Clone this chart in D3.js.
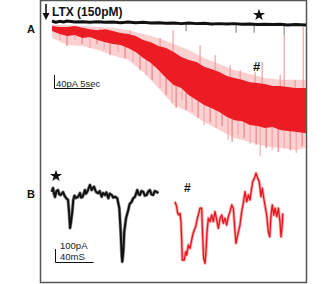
<!DOCTYPE html>
<html>
<head>
<meta charset="utf-8">
<script src="https://cdn.jsdelivr.net/npm/d3@7"></script>
<style>
  html, body { margin: 0; padding: 0; background: #fff; }
  svg { display: block; }
</style>
</head>
<body>
<div id="chart"></div>
<script>
// ---- panel A : whole recording (time in s, current in pA) ----
const bandT      = [0, 1, 2, 3, 4, 5, 6, 7, 8, 9, 10, 11, 12, 13, 14, 15, 16, 17, 18, 19, 20, 21, 22, 23, 24, 25, 26, 27, 28, 29, 30, 31, 32, 33.4];
const bandTop    = [-12, -15, -15, -12, -18, -22, -25, -22, -28, -34, -37, -43, -55, -62, -74, -80, -92, -108, -117, -123,
  -138, -145, -154, -166, -172, -178, -185, -188, -191, -197, -197, -200, -203, -203];
const bandBottom = [-28, -37, -43, -40, -49, -46, -55, -62, -68, -71, -80, -92, -111, -126, -148, -172, -194, -203, -225, -240,
  -255, -265, -277, -292, -302, -305, -317, -320, -326, -323, -332, -335, -338, -342];

// lighter, sparser envelope of the noise
const haloT      = [0, 2, 4, 6, 8, 10, 12, 14, 16, 18, 20, 22, 24, 26, 28, 30, 32, 33.4];
const haloTop    = [-9, -9, -12, -15, -18, -25, -37, -49, -68, -86, -111, -129, -148, -160, -172, -178, -178, -178];
const haloBottom = [-49, -71, -74, -86, -102, -117, -154, -203, -255, -277, -308, -332, -357, -369, -382, -388, -394, -388];

// downward / upward excursions of the red trace [t, pA]
const redDown = [[1.05, -55], [1.97, -74], [3.03, -55], [3.95, -68], [5.0, -80], [5.92, -68], [6.84, -86],
  [7.63, -102], [8.68, -92], [9.61, -111], [10.66, -123], [11.58, -148], [12.37, -163], [13.16, -178],
  [14.21, -203], [15.0, -225], [15.79, -249], [16.32, -265], [17.11, -240], [17.63, -271], [18.42, -277],
  [19.21, -295], [20.0, -317], [20.79, -308], [21.58, -326], [22.37, -320], [23.16, -363], [23.68, -369],
  [24.47, -348], [25.26, -357], [26.05, -375], [26.84, -378], [27.37, -412], [28.16, -388], [28.95, -394],
  [29.74, -400], [30.53, -388], [31.32, -394], [32.11, -403], [32.89, -382]];
const redUp = [[6.32, -18], [10.26, -25], [14.21, -49], [15.92, -25], [19.47, -71], [21.45, -102],
  [23.42, -132], [24.74, -148], [26.71, -154], [27.63, -123], [30.0, -163], [30.53, -40], [31.97, -178], [33.03, -15]];

const blackA = [[0, 3], [0.5, -1], [1, 2], [1.5, 0], [2, 3], [3, 0], [4, 1], [5, -1], [6, 1], [7, -1], [8, 0],
  [9, -2], [10, 0], [11, -2], [12, -1], [13, -3], [14, -2], [15, -4], [16, -3], [17, -5], [18, -3], [19, -5],
  [20, -4], [21, -6], [22, -5], [23, -6], [24, -5], [25, -7], [26, -6], [27, -8], [28, -7], [29, -8], [30, -7],
  [31, -9], [32, -8], [33.4, -9]];
const blackSpikes = [[17.63, -28], [24.21, -33], [26.58, -33], [30.53, -40]];

// ---- panel B : single events (time in ms, current in pA) ----
const controlB = [[0, 25], [1.4, 54], [2.4, 10], [3.5, -15], [5, 30], [6.6, 38], [8, 5], [9.5, 0], [11.9, 23], [13.5, -5],
  [15.1, -23], [17.2, -38], [18.5, -154], [19.3, -254], [20.3, -208], [21.7, -128], [22.7, -38], [24, -5], [25.6, -23],
  [28, -13], [29.8, 15], [31, -20], [32.6, -13], [35, 38], [36, 10], [37.5, 25], [40.3, 77], [42.1, 38], [44.5, 64],
  [46.6, 25], [49, 13], [50.5, 30], [52.6, -13], [54, 15], [56.1, 0], [57.5, 20], [59.6, -25], [61, 10], [63.2, 0],
  [64.8, -20], [66.6, -13], [69, -25], [71.2, -102], [72.6, -282], [73.7, -462], [74.3, -513], [75.4, -436],
  [76.4, -282], [78.2, -179], [80.6, -115], [82, -70], [84.2, -52], [85.8, -25], [87.7, -13], [90.1, 38], [91.5, 5],
  [92.9, 0], [94.5, 30], [96.4, 25], [98, -5], [100, 0], [101.5, 25], [103.4, 38], [105, 5], [106.9, 0], [108.5, 30],
  [110.5, 25], [112.2, 13]];
const ltxB = [[0, -52], [1.8, -90], [2.8, -141], [4.2, -154], [5.3, -141], [6.3, -205], [7.1, -359], [7.7, -500],
  [9.8, -500], [11.3, -436], [12.3, -462], [14, -385], [15.8, -410], [16.8, -372], [18.6, -308], [20.3, -269],
  [21.8, -244], [23.2, -192], [24.5, -154], [26.3, -102], [28.1, -102], [29.2, -333], [30.2, -487], [31.6, -525],
  [32.6, -436], [33.7, -282], [35.1, -179], [36.8, -205], [38.6, -154], [40.3, -205], [42.1, -128], [43.9, -192],
  [45.6, -256], [47.4, -179], [49.2, -154], [50.8, -218], [52.6, -179], [54.4, -231], [56.1, -167], [57.9, -128],
  [59.7, -77], [61.4, -102], [63.2, -282], [64.2, -372], [66, -308], [68.4, -231], [70.2, -128], [71.9, -64],
  [73.7, 25], [75.5, -52], [77.2, 0], [78.9, -38], [80.7, 52], [81.8, 102], [83.5, 128], [85.3, 167], [87.1, 128],
  [88.7, 102], [90.5, -13], [91.9, 52], [93.4, -25], [94.7, -77], [96.5, -154], [98.2, -282], [99.7, -321],
  [101.1, -154], [102.4, -77], [103.9, -154], [105.3, -102], [107.1, -167], [108.8, -102], [110.5, -205],
  [111.6, -321], [112.9, -231], [113.4, -141]];

const scaleA = { pA: 40, sec: 5 };
const scaleB = { pA: 100, ms: 40 };

const W = 332, H = 284;
const svg = d3.select('#chart').append('svg').attr('width', W).attr('height', H);

// frame
svg.append('rect')
  .attr('x', 40.5).attr('y', 0.5).attr('width', 266).attr('height', 282)
  .attr('fill', 'none').attr('stroke', '#555').attr('stroke-width', 1.5);

// scales
const xA = d3.scaleLinear().domain([0, 33.4]).range([52, 306]);
const yA = d3.scaleLinear().domain([0, -400]).range([22, 152]);
const xB = d3.scaleLinear().domain([0, 40]).range([0, 38]);
const yB = d3.scaleLinear().domain([0, -100]).range([195, 208]);

const topAt = d3.scaleLinear().domain(bandT).range(bandTop);
const botAt = d3.scaleLinear().domain(bandT).range(bandBottom);

// red trace A
const gA = svg.append('g');

gA.append('path')
  .datum(haloT)
  .attr('d', d3.area()
    .x((d, i) => xA(haloT[i]))
    .y0((d, i) => yA(haloTop[i]))
    .y1((d, i) => yA(haloBottom[i])))
  .attr('fill', '#f7a9ac').attr('opacity', 0.55);

gA.selectAll('line.up')
  .data(redUp)
  .join('line')
  .attr('x1', d => xA(d[0])).attr('x2', d => xA(d[0]))
  .attr('y1', d => yA(topAt(d[0]))).attr('y2', d => yA(d[1]))
  .attr('stroke', '#f48d92').attr('stroke-width', 1);

gA.selectAll('line.down')
  .data(redDown)
  .join('line')
  .attr('x1', d => xA(d[0])).attr('x2', d => xA(d[0]))
  .attr('y1', d => yA(botAt(d[0]))).attr('y2', d => yA(d[1]))
  .attr('stroke', (d, i) => i % 2 ? '#ef6f75' : '#f49da1').attr('stroke-width', 1);

gA.append('path')
  .datum(bandT)
  .attr('d', d3.area()
    .x((d, i) => xA(bandT[i]))
    .y0((d, i) => yA(bandTop[i]))
    .y1((d, i) => yA(bandBottom[i])))
  .attr('fill', '#ec1c24');

// black trace A
gA.selectAll('line.bs')
  .data(blackSpikes)
  .join('line')
  .attr('x1', d => xA(d[0])).attr('x2', d => xA(d[0]))
  .attr('y1', yA(-4)).attr('y2', d => yA(d[1]))
  .attr('stroke', '#777').attr('stroke-width', 1);
gA.append('path')
  .datum(blackA)
  .attr('d', d3.line().x(d => xA(d[0])).y(d => yA(d[1])))
  .attr('fill', 'none').attr('stroke', '#111').attr('stroke-width', 3).attr('stroke-linejoin', 'round');

// panel B traces
const lineB = d3.line().x(d => xB(d[0])).y(d => yB(d[1]));
const gB1 = svg.append('g').attr('transform', 'translate(51.7,0)');
gB1.append('path').datum(controlB).attr('d', lineB)
  .attr('fill', 'none').attr('stroke', '#999').attr('stroke-width', 3.4).attr('stroke-linejoin', 'round');
gB1.append('path').datum(controlB).attr('d', lineB)
  .attr('fill', 'none').attr('stroke', '#111').attr('stroke-width', 2).attr('stroke-linejoin', 'round');

const gB2 = svg.append('g').attr('transform', 'translate(175,0)');
gB2.append('path').datum(ltxB).attr('d', lineB)
  .attr('fill', 'none').attr('stroke', '#f7a3a6').attr('stroke-width', 3).attr('stroke-linejoin', 'round');
gB2.append('path').datum(ltxB).attr('d', lineB)
  .attr('fill', 'none').attr('stroke', '#e8151d').attr('stroke-width', 1.3).attr('stroke-linejoin', 'round');

// scale bars
const narrow = 'Liberation Sans Narrow, Arial Narrow, Liberation Sans, sans-serif';
svg.append('path')
  .attr('d', `M54.5,${88 - (yA(-scaleA.pA) - yA(0))}V88.5H${54.5 + xA(scaleA.sec) - xA(0)}`)
  .attr('fill', 'none').attr('stroke', '#111').attr('stroke-width', 1);
svg.append('text').attr('x', 56).attr('y', 86.5)
  .attr('font-family', narrow).attr('font-size', 9.5).attr('fill', '#222').text(`${scaleA.pA}pA ${scaleA.sec}sec`);

svg.append('path')
  .attr('d', `M55.5,${262 - (yB(-scaleB.pA) - yB(0))}V262.5H${55.5 + xB(scaleB.ms)}`)
  .attr('fill', 'none').attr('stroke', '#111').attr('stroke-width', 1);
svg.append('text').attr('x', 60).attr('y', 249)
  .attr('font-family', narrow).attr('font-size', 9.5).attr('fill', '#222').text(`${scaleB.pA}pA`);
svg.append('text').attr('x', 60).attr('y', 259.5)
  .attr('font-family', narrow).attr('font-size', 9.5).attr('fill', '#222').text(`${scaleB.ms}mS`);

// labels
const bold = s => s.attr('font-family', 'Liberation Sans, Arial, sans-serif').attr('font-weight', 'bold').attr('fill', '#111');
svg.append('text').attr('x', 27).attr('y', 33).attr('font-size', 11).call(bold).text('A');
svg.append('text').attr('x', 27).attr('y', 198).attr('font-size', 11).call(bold).text('B');
svg.append('text').attr('x', 52).attr('y', 16).attr('font-size', 12).call(bold).text('LTX (150pM)');
svg.append('text').attr('x', 253).attr('y', 71).attr('font-size', 13).call(bold).text('#');
svg.append('text').attr('x', 184).attr('y', 192).attr('font-size', 12).call(bold).text('#');

// arrow
svg.append('line').attr('x1', 46).attr('x2', 46).attr('y1', 4).attr('y2', 16)
  .attr('stroke', '#111').attr('stroke-width', 1.6);
svg.append('path').attr('d', 'M42.5,13L46,20L49.5,13Z').attr('fill', '#111');

// stars
const star = d3.symbol().type(d3.symbolStar).size(45);
svg.append('path').attr('d', star).attr('transform', 'translate(259,15)').attr('fill', '#111');
svg.append('path').attr('d', star).attr('transform', 'translate(56,176)').attr('fill', '#111');
</script>
</body>
</html>
